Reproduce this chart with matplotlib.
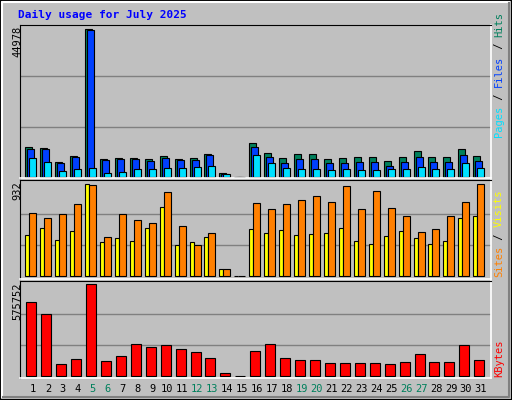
import matplotlib
matplotlib.use("Agg")
import matplotlib.pyplot as plt
from matplotlib.patches import Rectangle
import numpy as np

days = list(range(1, 32))
weekend = [5, 6, 12, 13, 19, 20, 26, 27]
hits = [9060, 8750, 4480, 6310, 44978, 5390, 5700, 5700, 5390, 6310, 5390, 5700, 6920, 1020, 0,
        10280, 7230, 5700, 6920, 6920, 5390, 5700, 6000, 6000, 4780, 6000, 7840, 6000, 6000, 8450, 6310]
files = [8450, 8450, 4070, 6000, 44680, 5090, 5390, 5390, 4780, 5700, 5090, 5090, 6620, 810, 0,
         9060, 6000, 4170, 5390, 5390, 4170, 4170, 4480, 4480, 3260, 4480, 6000, 4480, 4480, 6620, 4780]
pages = [5700, 4480, 1730, 2340, 2650, 1120, 1430, 2340, 2340, 2650, 2650, 2950, 3260, 810, 0,
         6620, 4170, 2650, 2340, 2340, 2040, 2340, 2040, 2040, 2340, 2340, 2950, 2340, 2340, 4170, 2650]
sites = [415, 486, 365, 456, 932, 344, 385, 355, 486, 699, 314, 344, 395, 71, 0,
         476, 436, 466, 415, 426, 436, 486, 355, 324, 405, 456, 385, 324, 355, 588, 608]
visits = [638, 588, 628, 729, 922, 395, 628, 567, 537, 851, 507, 314, 436, 71, 0,
          740, 679, 729, 770, 810, 750, 912, 679, 861, 689, 608, 446, 476, 608, 750, 932]
kbytes = [462000, 387000, 71000, 103000, 575752, 90000, 122000, 197000, 179000, 191000, 166000, 147000, 109000, 15000, 0,
          153000, 197000, 109000, 97000, 97000, 78000, 78000, 78000, 78000, 71000, 84000, 134000, 84000, 84000, 191000, 97000]
title = "Daily usage for July 2025"

BG = "#C0C0C0"
C_HITS, C_FILES, C_PAGES = "#00805C", "#0040FF", "#00E0FF"
C_SITES, C_VISITS, C_KB = "#FFFF00", "#FF8000", "#FF0000"
MONO = "DejaVu Sans Mono"

W, H = 512, 400
fig = plt.figure(figsize=(W / 100, H / 100), dpi=100, facecolor=BG)

def px_axes(x0, y0, x1, y1):
    return fig.add_axes([x0 / W, 1 - y1 / H, (x1 - x0) / W, (y1 - y0) / H])

x = np.array(days, dtype=float)
XL = (1 - 13 / 14.93, 31 + 10 / 14.93)
pxd = 1 / 14.93

def style(ax, M, lo, hi):
    ax.set_facecolor(BG)
    ax.set_xlim(*XL)
    ax.set_ylim(lo * M, hi * M)
    ax.set_xticks([]); ax.set_yticks([])
    for f in (0.34, 0.68):
        ax.axhline(f * M, color="#808080", lw=1, zorder=0)
    for s in ("top", "left"):
        ax.spines[s].set_color("black")
    for s in ("bottom", "right"):
        ax.spines[s].set_color("white")
        ax.spines[s].set_linewidth(1.2)

kw = dict(align="edge", edgecolor="black", linewidth=0.8)
ax1 = px_axes(20, 25, 491, 178)
M1 = max(hits)
style(ax1, M1, -1.3 / 147.4, 151.7 / 147.4)
ax1.bar(x - 0.516, hits, 7 * pxd, color=C_HITS, **kw)
ax1.bar(x - 0.382, files, 7 * pxd, color=C_FILES, **kw)
ax1.bar(x - 0.248, pages, 7 * pxd, color=C_PAGES, **kw)

ax2 = px_axes(20, 180, 491, 279)
M2 = max(sites + visits)
style(ax2, M2, -2.7 / 92, 96.3 / 92)
ax2.bar(x - 0.516, sites, 4 * pxd, color=C_SITES, **kw)
ax2.bar(x - 0.248, visits, 7 * pxd, color=C_VISITS, **kw)

ax3 = px_axes(20, 281, 491, 378)
M3 = max(kbytes)
style(ax3, M3, -2.3 / 91.4, 94.7 / 91.4)
ax3.bar(x - 0.449, kbytes, 10 * pxd, color=C_KB, **kw)

for d in days:
    fig.text((33 + (d - 1) * 14.93) / W, 1 - 389 / H, str(d), ha="center", va="center",
             fontsize=7.5, family=MONO, color=C_HITS if d in weekend else "black")

# left max labels
fig.text(17 / W, 1 - 26 / H, f"{M1}", rotation=90, ha="center", va="top", fontsize=7.5, family=MONO)
fig.text(17 / W, 1 - 181 / H, f"{M2}", rotation=90, ha="center", va="top", fontsize=7.5, family=MONO)
fig.text(17 / W, 1 - 283 / H, f"{M3}", rotation=90, ha="center", va="top", fontsize=7.5, family=MONO)

# right legend labels (bottom to top)
FS = 7.5
cw = 0.602 * FS * 100 / 72
def vlabel(ybottom, parts):
    y = ybottom
    for txt, col in parts:
        fig.text(499 / W, 1 - y / H, txt, rotation=90, ha="center", va="bottom",
                 fontsize=FS, family=MONO, color=col)
        y -= cw * len(txt)

vlabel(137, [("Pages", C_PAGES), (" / ", "black"), ("Files", C_FILES), (" / ", "black"), ("Hits", C_HITS)])
vlabel(277, [("Sites", C_VISITS), (" / ", "black"), ("Visits", C_SITES)])
vlabel(377, [("KBytes", C_KB)])

fig.text(18 / W, 1 - 15 / H, title, ha="left", va="center", fontsize=8, family=MONO,
         weight="bold", color="#0000FF")

# bevel border
fig.patches.append(Rectangle((0, 0), 1, 1, transform=fig.transFigure, fill=False, edgecolor="black", lw=1.5))
fig.lines.append(plt.Line2D([2 / W, 2 / W, 1 - 3 / W], [3 / H, 1 - 2 / H, 1 - 2 / H], transform=fig.transFigure, color="white", lw=1.5))
fig.lines.append(plt.Line2D([3 / W, 1 - 3 / W, 1 - 3 / W], [3 / H, 3 / H, 1 - 3 / H], transform=fig.transFigure, color="#808080", lw=1.5))

fig.savefig("out.png", dpi=100, facecolor=BG)
